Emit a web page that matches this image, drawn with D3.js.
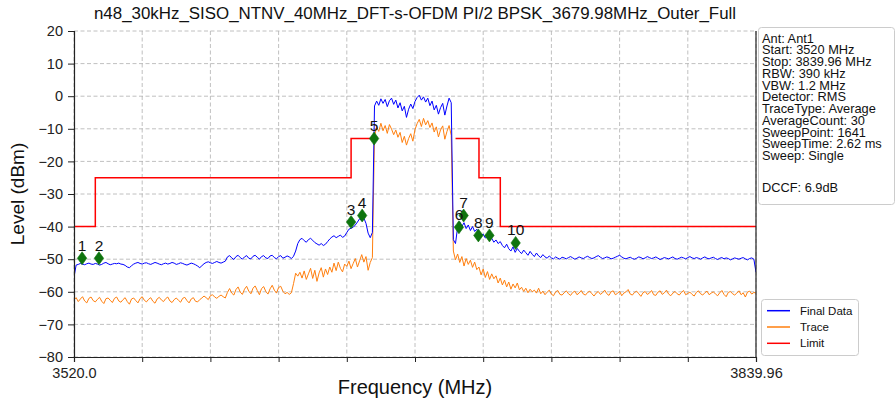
<!DOCTYPE html>
<html><head><meta charset="utf-8">
<script src="https://cdn.jsdelivr.net/npm/d3@7"></script>
<style>
body{margin:0;background:#fff;}
svg{display:block;font-family:"Liberation Sans",Arial,sans-serif;}
</style></head>
<body><svg id="c" width="896" height="403"></svg>
<script>
// ---------- data ----------
const titleText = "n48_30kHz_SISO_NTNV_40MHz_DFT-s-OFDM PI/2 BPSK_3679.98MHz_Outer_Full";
const freqStart = 3520.0, freqStop = 3839.96;
const yTicks = [20,10,0,-10,-20,-30,-40,-50,-60,-70,-80];
const xTickLabels = ["3520.0","","","","","","","","","","3839.96"];

const finalData = [
-55.5,-51.8,-51.6,-51.3,-51.5,-51.7,-51.4,-51.2,-51.5,-51.6,
-51.3,-51.5,-51.8,-51.6,-51.2,-51.0,-51.4,-51.7,-51.5,-51.3,
-51.4,-51.2,-51.5,-51.6,-51.9,-52.4,-52.6,-52.0,-51.5,-51.2,
-51.0,-51.3,-51.5,-51.2,-51.1,-51.4,-51.6,-51.3,-51.0,-51.2,
-51.5,-51.7,-51.4,-51.2,-51.5,-51.3,-51.0,-51.2,-51.6,-51.4,
-51.1,-51.3,-51.6,-51.8,-51.5,-51.2,-51.4,-51.7,-52.1,-52.6,
-52.0,-51.4,-51.0,-50.8,-51.1,-51.3,-51.0,-50.7,-51.0,-51.2,
-50.9,-50.6,-49.3,-48.9,-49.6,-50.1,-49.2,-48.8,-49.5,-50.0,
-49.3,-48.9,-49.7,-49.9,-49.1,-48.8,-49.4,-50.0,-49.2,-48.9,
-49.6,-49.8,-49.0,-48.8,-49.5,-49.9,-49.2,-48.9,-49.7,-49.4,
-49.0,-49.3,-49.8,-49.1,-47.5,-45.2,-44.0,-43.6,-44.3,-44.8,
-44.0,-43.6,-44.2,-44.9,-45.3,-45.7,-45.2,-45.8,-45.4,-44.6,
-43.8,-43.2,-42.8,-43.4,-43.0,-42.6,-43.3,-42.9,-41.8,-40.8,
-40.5,-40.2,-39.5,-38.6,-37.6,-38.2,-37.4,-39.0,-42.0,-43.4,
-41.8,
-3.0,-1.5,-2.8,-0.8,-2.2,-1.0,-3.2,-1.4,-0.6,
-2.5,-1.2,-3.6,-2.0,-4.5,-3.1,-6.5,-4.0,-2.4,-3.8,
-1.6,-0.4,0.3,-1.2,-0.2,-1.8,-0.6,-2.9,-1.5,-4.2,
-2.8,-5.5,-3.5,-2.2,-5.8,-3.0,-0.6,-2.0,
-44.0,-45.2,
-40.2,-38.5,-40.0,-38.8,-40.6,-39.5,-41.2,-40.0,-41.5,-40.8,
-42.4,-42.9,-42.3,-43.5,-43.0,-44.2,-43.6,-44.8,-44.1,-45.2,
-44.6,-45.8,-46.5,-45.4,-46.8,-47.5,-46.2,-47.9,-46.7,-47.6,
-48.3,-47.2,-48.0,-48.8,-47.6,-48.5,-49.2,-48.1,-49.0,-49.5,
-48.6,-49.3,-49.7,-49.0,-49.6,-49.9,-49.3,-49.7,-50.0,-49.4,
-49.6,-49.9,-49.5,-49.2,-49.6,-50.0,-49.7,-49.3,-49.6,-49.8,
-49.4,-49.1,-49.5,-49.8,-49.6,-49.2,-48.9,-49.4,-49.8,-49.6,
-49.3,-49.5,-49.9,-49.7,-49.4,-49.1,-48.8,-49.3,-49.7,-49.9,
-49.6,-49.4,-49.8,-50.0,-49.7,-49.3,-49.5,-49.9,-49.6,-49.2,
-49.5,-49.8,-49.6,-49.3,-49.7,-50.1,-49.8,-49.5,-49.7,-49.9,
-49.6,-49.3,-49.8,-50.0,-49.7,-49.4,-49.6,-49.9,-49.5,-49.2,
-49.6,-49.8,-49.5,-49.7,-50.0,-49.6,-49.3,-49.7,-49.9,-49.6,
-49.4,-49.8,-50.1,-49.7,-49.5,-49.9,-49.6,-49.8,-50.2,-49.9,
-49.6,-49.8,-50.0,-49.7,-49.5,-49.9,-50.2,-49.8,-49.6,-50.0,
-54.0
];

const traceData = [
-62.5,-61.8,-63.0,-62.2,-61.5,-62.8,-63.4,-62.0,-61.6,-62.7,
-63.1,-62.3,-61.7,-62.9,-63.6,-62.1,-61.9,-62.6,-63.3,-62.0,
-61.6,-62.8,-63.2,-62.4,-61.8,-63.0,-63.8,-62.2,-61.9,-62.7,
-63.4,-62.1,-61.5,-62.6,-63.1,-62.3,-61.8,-62.9,-63.5,-62.2,
-61.7,-62.5,-63.0,-62.1,-61.6,-62.8,-63.3,-62.4,-61.9,-62.6,
-63.2,-62.0,-61.7,-62.7,-63.4,-62.2,-61.8,-62.9,-63.1,-62.4,
-61.9,-61.3,-61.8,-62.4,-61.2,-60.9,-61.6,-62.0,-61.4,-61.0,
-61.5,-61.9,-60.2,-59.0,-60.4,-61.0,-59.3,-58.5,-60.1,-60.8,
-59.2,-58.3,-59.8,-60.6,-58.9,-58.2,-59.6,-60.9,-59.0,-58.4,
-59.9,-60.7,-59.1,-58.0,-59.5,-60.4,-58.7,-58.3,-59.8,-60.6,
-60.2,-60.8,-60.3,-57.5,-54.3,-55.2,-54.0,-55.8,-53.6,-56.2,
-54.5,-52.8,-55.9,-53.4,-56.8,-54.2,-52.6,-55.5,-53.0,-54.7,
-52.4,-54.0,-51.2,-53.5,-50.9,-52.8,-53.9,-51.5,-52.2,-50.6,
-52.9,-51.3,-49.8,-52.4,-50.5,-48.6,-50.9,-49.2,-53.4,-51.0,
-49.5,
-12.2,-9.5,-10.8,-8.3,-10.6,-9.0,-11.4,-8.7,-10.1,
-11.8,-10.4,-12.6,-11.1,-14.2,-12.3,-15.0,-13.0,-11.5,-13.8,
-10.2,-8.4,-7.1,-9.3,-6.8,-8.8,-7.5,-9.6,-8.2,-11.0,
-9.4,-12.5,-10.3,-9.1,-13.2,-10.8,-9.0,-12.0,
-47.5,-50.2,
-48.4,-51.0,-49.2,-52.1,-49.8,-51.6,-50.3,-52.5,-50.9,-53.2,
-52.4,-54.8,-53.0,-55.6,-53.8,-56.2,-54.5,-56.0,-55.1,-57.3,
-55.8,-57.9,-56.4,-58.5,-57.0,-59.2,-57.6,-58.8,-57.3,-59.4,
-58.6,-59.9,-58.9,-60.3,-59.2,-60.0,-59.5,-60.4,-58.9,-60.6,
-59.8,-60.9,-60.1,-59.5,-60.7,-61.2,-60.0,-59.6,-60.8,-61.0,
-60.3,-59.7,-60.6,-61.1,-60.2,-59.8,-60.9,-60.4,-59.6,-60.7,
-61.0,-60.2,-59.8,-60.6,-61.3,-60.4,-59.9,-60.8,-60.3,-59.5,
-60.6,-61.1,-60.0,-59.7,-60.9,-60.5,-59.8,-61.2,-60.4,-60.0,
-59.3,-60.7,-61.0,-60.2,-59.8,-60.6,-61.4,-60.3,-59.9,-60.8,
-60.4,-59.6,-60.9,-61.1,-60.1,-59.7,-60.8,-60.3,-59.5,-60.7,
-61.2,-60.4,-59.9,-60.6,-61.0,-60.2,-59.6,-60.9,-60.5,-60.1,
-60.8,-61.3,-60.2,-59.7,-60.6,-61.0,-60.3,-59.8,-60.9,-60.4,
-60.0,-60.7,-61.2,-60.3,-59.6,-60.8,-61.5,-60.2,-59.9,-60.6,
-61.0,-60.4,-59.7,-60.9,-60.3,-61.6,-60.1,-59.8,-60.7,-60.2,
-60.4
];

const limitFreq  = [3520, 3530, 3530, 3650, 3650, 3660, null, 3699, 3710, 3710, 3720, 3720, 3839.96];
const limitLevel = [-40, -40, -25, -25, -13, -13, null, -13, -13, -25, -25, -40, -40];

const markerLabels = ["1","2","3","4","5","6","7","8","9","10"];
const markerFreq   = [3523.8, 3531.7, 3650.0, 3655.2, 3660.8, 3700.6, 3702.8, 3709.7, 3714.9, 3727.2];
const markerLevel  = [-49.7, -49.7, -38.6, -36.6, -13.0, -40.2, -36.6, -42.7, -42.7, -45.0];

const infoLines = ["Ant: Ant1","Start: 3520 MHz","Stop: 3839.96 MHz","RBW: 390 kHz","VBW: 1.2 MHz",
  "Detector: RMS","TraceType: Average","AverageCount: 30","SweepPoint: 1641","SweepTime: 2.62 ms","Sweep: Single"];
const infoExtra = "DCCF: 6.9dB";
const legendNames = ["Final Data","Trace","Limit"];
const legendColors = ["#0000ff","#ff7f0e","#ff0000"];

// ---------- chart ----------
const svg = d3.select("#c");
const L = 74, R = 756, T = 31, B = 357;
const x = d3.scaleLinear([freqStart, freqStop], [L, R]);
const y = d3.scaleLinear([-80, 20], [B, T]);
const grid = "#b0b0b0";
const FF = "Liberation Sans, Arial, sans-serif";

const freqOf = (arr) => arr.map((v, i) => ({f: freqStart + i * (freqStop - freqStart) / (arr.length - 1), v}));
const xTicks = d3.range(11).map(i => freqStart + i * (freqStop - freqStart) / 10);

svg.append("defs").append("clipPath").attr("id","clip")
  .append("rect").attr("x", L).attr("y", T).attr("width", R - L).attr("height", B - T);

// grid
const g = svg.append("g");
g.selectAll(".hg").data(yTicks).join("line")
  .attr("x1", L).attr("x2", R).attr("y1", d => y(d)).attr("y2", d => y(d))
  .attr("stroke", grid).attr("stroke-width", 0.8).attr("stroke-dasharray", "4,2.5");
g.selectAll(".vg").data(xTicks).join("line")
  .attr("x1", d => x(d)).attr("x2", d => x(d)).attr("y1", T).attr("y2", B)
  .attr("stroke", grid).attr("stroke-width", 0.8).attr("stroke-dasharray", "4,2.5");

// lines
const plot = svg.append("g").attr("clip-path", "url(#clip)");
const line = d3.line().x(d => x(d.f)).y(d => y(d.v));
plot.append("path").datum(freqOf(traceData)).attr("d", line)
  .attr("fill","none").attr("stroke", legendColors[1]).attr("stroke-width", 1);
plot.append("path").datum(freqOf(finalData)).attr("d", line)
  .attr("fill","none").attr("stroke", legendColors[0]).attr("stroke-width", 1);
const limData = limitFreq.map((f, i) => ({f, v: limitLevel[i]}));
plot.append("path").datum(limData)
  .attr("d", d3.line().defined(d => d.f !== null).x(d => x(d.f)).y(d => y(d.v)))
  .attr("fill","none").attr("stroke", legendColors[2]).attr("stroke-width", 1.5);

// markers
const mk = svg.append("g");
const mData = markerFreq.map((f, i) => ({f, v: markerLevel[i], t: markerLabels[i]}));
mk.selectAll("path").data(mData).join("path")
  .attr("transform", d => `translate(${x(d.f)},${y(d.v)})`)
  .attr("d", "M0,-6.5L4.7,0L0,6.5L-4.7,0Z")
  .attr("fill", "#0e740e").attr("stroke", "#0e740e").attr("stroke-width", 0.6);
mk.selectAll("text").data(mData).join("text")
  .attr("x", d => x(d.f)).attr("y", d => y(d.v) - 7.5)
  .attr("text-anchor", "middle").attr("font-size", 15.5).attr("fill", "#111")
  .text(d => d.t);

// axes
const yAxis = svg.append("g").attr("transform", `translate(${L},0)`)
  .call(d3.axisLeft(y).tickValues(yTicks).tickSize(6).tickPadding(5));
yAxis.selectAll("text").attr("font-size", 14.5).attr("fill", "#222").attr("font-family", FF);
const xAxis = svg.append("g").attr("transform", `translate(0,${B})`)
  .call(d3.axisBottom(x).tickValues(xTicks).tickSize(5).tickPadding(6).tickFormat((d, i) => xTickLabels[i]));
xAxis.selectAll("text").attr("font-size", 14.5).attr("fill", "#222").attr("font-family", FF);
svg.selectAll(".domain").attr("stroke", "#222").attr("stroke-width", 1.2);
svg.selectAll(".tick line").attr("stroke", "#222");
// right spine
svg.append("line").attr("x1", R).attr("x2", R).attr("y1", T).attr("y2", B).attr("stroke", "#222").attr("stroke-width", 1.2);

// titles
svg.append("text").attr("x", (L + R) / 2).attr("y", 19).attr("text-anchor", "middle")
  .attr("font-size", 16.9).attr("fill", "#111").text(titleText);
svg.append("text").attr("transform", `translate(24,${(T + B) / 2}) rotate(-90)`).attr("text-anchor", "middle")
  .attr("font-size", 19).attr("fill", "#111").text("Level (dBm)");
svg.append("text").attr("x", (L + R) / 2).attr("y", 394).attr("text-anchor", "middle")
  .attr("font-size", 20).attr("fill", "#111").text("Frequency (MHz)");

// info box
const ib = svg.append("g");
ib.append("rect").attr("x", 758.5).attr("y", 27.5).attr("width", 136).attr("height", 177).attr("rx", 3)
  .attr("fill", "#fff").attr("stroke", "#cccccc");
ib.selectAll("text").data(infoLines).join("text")
  .attr("x", 762).attr("y", (d, i) => 42.5 + i * 11.75)
  .attr("font-size", 12.8).attr("fill", "#111").text(d => d);
ib.append("text").attr("x", 762).attr("y", 192).attr("font-size", 12.8).attr("fill", "#111").text(infoExtra);

// legend
const lg = svg.append("g");
lg.append("rect").attr("x", 761.5).attr("y", 299.5).attr("width", 97).attr("height", 56).attr("rx", 3)
  .attr("fill", "#fff").attr("stroke", "#cccccc");
legendNames.forEach((n, i) => {
  const yy = 310.7 + i * 16.3;
  lg.append("line").attr("x1", 767).attr("x2", 790).attr("y1", yy).attr("y2", yy)
    .attr("stroke", legendColors[i]).attr("stroke-width", 1.5);
  lg.append("text").attr("x", 800).attr("y", yy + 4).attr("font-size", 11.5).attr("fill", "#111").text(n);
});
</script></body></html>
